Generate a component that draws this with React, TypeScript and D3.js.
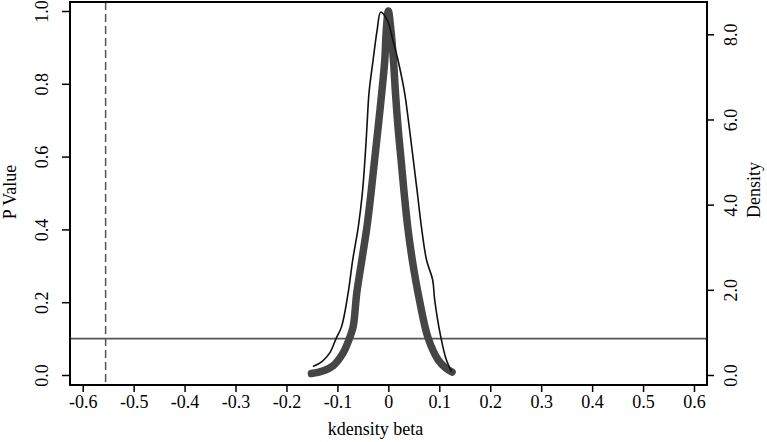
import { useEffect, useRef } from 'react';
import * as d3 from 'd3';

// tick labels
const betaTicks = [-0.6, -0.5, -0.4, -0.3, -0.2, -0.1, 0, 0.1, 0.2, 0.3, 0.4, 0.5, 0.6];
const pTicks = [0, 0.2, 0.4, 0.6, 0.8, 1.0];
const densityTicks = [0, 2, 4, 6, 8];

// placebo estimates: coefficient vs p value
const pBeta = [-0.151, -0.129, -0.108, -0.089, -0.076, -0.069, -0.062, -0.052, -0.042, -0.034, -0.027, -0.02, -0.013, -0.007, -0.004, 0, 0.005, 0.01, 0.014, 0.019, 0.025, 0.031, 0.038, 0.047, 0.061, 0.078, 0.098, 0.113, 0.125];
const pValue = [0.004, 0.011, 0.026, 0.06, 0.102, 0.133, 0.225, 0.316, 0.407, 0.5, 0.591, 0.681, 0.775, 0.865, 0.948, 1.0, 0.948, 0.865, 0.775, 0.681, 0.591, 0.5, 0.407, 0.316, 0.206, 0.102, 0.041, 0.019, 0.008];

// kernel density of beta
const kdBeta = [-0.148, -0.131, -0.115, -0.102, -0.092, -0.079, -0.07, -0.059, -0.051, -0.046, -0.042, -0.038, -0.03, -0.022, -0.015, -0.002, 0.009, 0.019, 0.032, 0.041, 0.049, 0.057, 0.065, 0.075, 0.087, 0.091, 0.103, 0.114, 0.124];
const kdValue = [0.2, 0.31, 0.52, 0.87, 1.13, 1.92, 2.7, 3.48, 4.27, 5.05, 5.83, 6.62, 7.39, 8.1, 8.52, 8.33, 7.86, 7.39, 6.62, 5.82, 5.05, 4.27, 3.47, 2.7, 2.23, 1.76, 0.89, 0.35, 0.08];

// true coefficient and significance level
const trueBeta = -0.555;
const pCut = 0.1;

const fmt1 = (d: number) => d3.format('.1f')(d).replace('\u2212', '-');

export default function App() {
  const ref = useRef<SVGSVGElement>(null);

  useEffect(() => {
    document.body.style.margin = '0';
    if (!ref.current) return;
    const svg = d3.select(ref.current);
    svg.selectAll('*').remove();

    const font = '"Liberation Serif", "Times New Roman", serif';
    const frame = { left: 70, right: 707, top: 2, bottom: 385 };

    const x = d3.scaleLinear().domain([-0.6, 0.6]).range([82.7, 694]);
    const yP = d3.scaleLinear().domain([0, 1]).range([375, 11]);
    const yD = d3.scaleLinear().domain([0, 8]).range([375, 34.3]);

    svg.append('rect')
      .attr('width', 767).attr('height', 442).attr('fill', '#fff');

    // reference lines
    svg.append('line')
      .attr('x1', frame.left).attr('x2', frame.right)
      .attr('y1', yP(pCut)).attr('y2', yP(pCut))
      .attr('stroke', '#555').attr('stroke-width', 1.7);
    svg.append('line')
      .attr('x1', x(trueBeta)).attr('x2', x(trueBeta))
      .attr('y1', frame.top).attr('y2', frame.bottom)
      .attr('stroke', '#555').attr('stroke-width', 1.5)
      .attr('stroke-dasharray', '8,4');

    // p values (thick dots)
    const pLine = d3.line<number>()
      .x((_, i) => x(pBeta[i]))
      .y(d => yP(d))
      .curve(d3.curveCatmullRom.alpha(0.5));
    svg.append('path')
      .attr('d', pLine(pValue))
      .attr('fill', 'none')
      .attr('stroke', '#454545')
      .attr('stroke-width', 7.5)
      .attr('stroke-linecap', 'round')
      .attr('stroke-linejoin', 'round');

    // kernel density (thin line)
    const kdLine = d3.line<number>()
      .x((_, i) => x(kdBeta[i]))
      .y(d => yD(d))
      .curve(d3.curveCatmullRom.alpha(0.5));
    svg.append('path')
      .attr('d', kdLine(kdValue))
      .attr('fill', 'none')
      .attr('stroke', '#111')
      .attr('stroke-width', 1.6);

    // frame
    svg.append('rect')
      .attr('x', frame.left).attr('y', frame.top)
      .attr('width', frame.right - frame.left)
      .attr('height', frame.bottom - frame.top)
      .attr('fill', 'none').attr('stroke', '#000').attr('stroke-width', 2);

    // bottom axis
    const gx = svg.append('g')
      .attr('transform', `translate(0,${frame.bottom})`)
      .call(d3.axisBottom(x).tickValues(betaTicks).tickSize(7)
        .tickFormat(d => (+d === 0 ? '0' : fmt1(+d))));
    gx.select('.domain').remove();
    gx.selectAll('line').attr('stroke', '#000').attr('stroke-width', 1.5);
    gx.selectAll('text')
      .attr('y', 23).attr('dy', 0)
      .style('font-family', font).style('font-size', '18px').attr('fill', '#000');

    // left axis
    const gl = svg.append('g')
      .attr('transform', `translate(${frame.left},0)`)
      .call(d3.axisLeft(yP).tickValues(pTicks).tickSize(8).tickFormat(d => fmt1(+d)));
    gl.select('.domain').remove();
    gl.selectAll('line').attr('stroke', '#000').attr('stroke-width', 1.5);
    gl.selectAll('text')
      .attr('x', 0).attr('dy', 0)
      .attr('text-anchor', 'middle')
      .attr('transform', 'translate(-22,0) rotate(-90)')
      .style('font-family', font).style('font-size', '18px').attr('fill', '#000');

    // right axis
    const gr = svg.append('g')
      .attr('transform', `translate(${frame.right},0)`)
      .call(d3.axisRight(yD).tickValues(densityTicks).tickSize(7).tickFormat(d => fmt1(+d)));
    gr.select('.domain').remove();
    gr.selectAll('line').attr('stroke', '#000').attr('stroke-width', 1.5);
    gr.selectAll('text')
      .attr('x', 0).attr('dy', 0)
      .attr('text-anchor', 'middle')
      .attr('transform', 'translate(30,0) rotate(-90)')
      .style('font-family', font).style('font-size', '18px').attr('fill', '#000');

    // axis titles
    svg.append('text')
      .attr('transform', 'translate(15.5,192) rotate(-90)')
      .attr('text-anchor', 'middle')
      .style('font-family', font).style('font-size', '18px')
      .text('P Value');
    svg.append('text')
      .attr('transform', 'translate(760,190) rotate(-90)')
      .attr('text-anchor', 'middle')
      .style('font-family', font).style('font-size', '18px')
      .text('Density');
    svg.append('text')
      .attr('x', 375.5).attr('y', 435)
      .attr('text-anchor', 'middle')
      .style('font-family', font).style('font-size', '18px')
      .text('kdensity beta');
  }, []);

  return <svg ref={ref} width={767} height={442} style={{ display: 'block' }} />;
}
